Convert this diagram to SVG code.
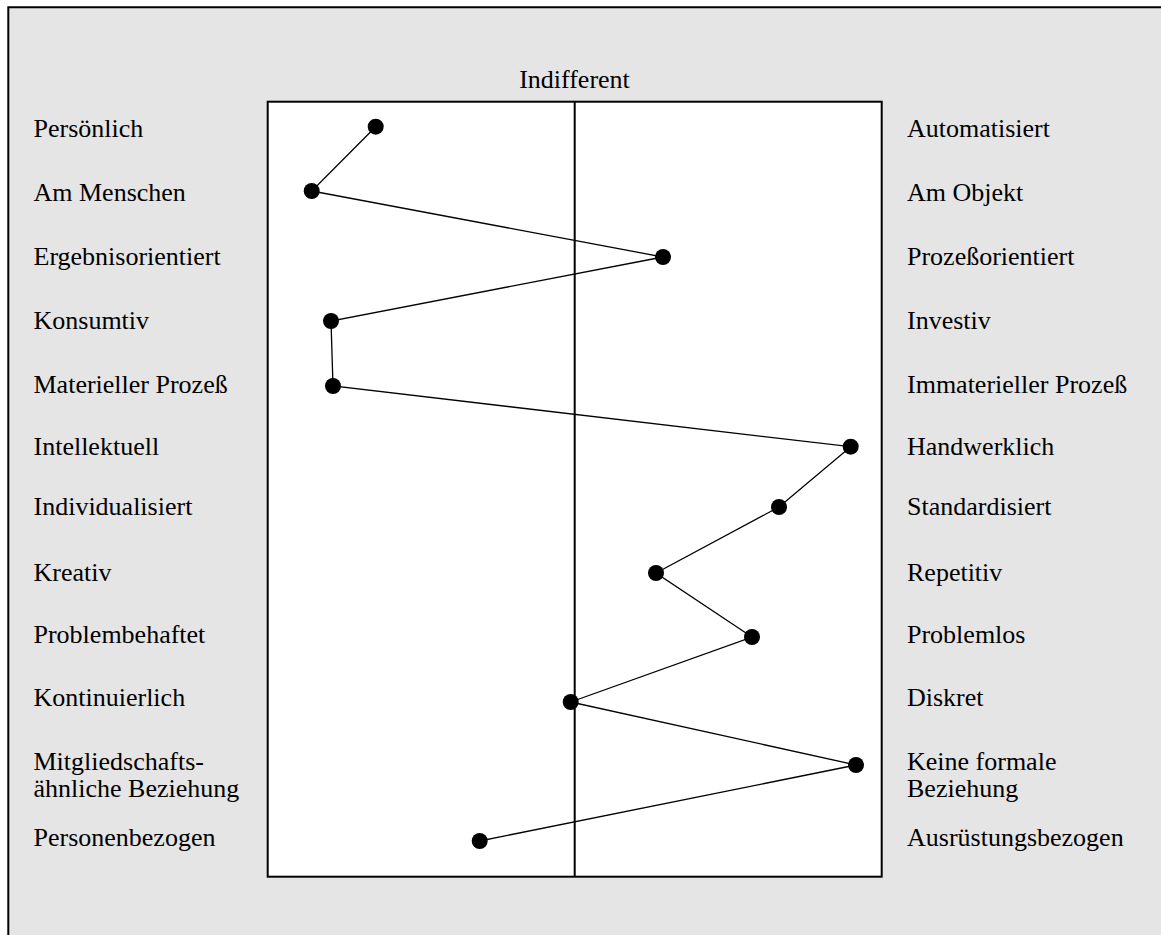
<svg xmlns="http://www.w3.org/2000/svg" width="1161" height="935" viewBox="0 0 1161 935">
<style>
text{font-family:"Liberation Serif","Times New Roman",serif;font-size:26px;fill:#000}
.l{text-anchor:start}
.dot{fill:#000}
.frame{fill:#fff;stroke:#000;stroke-width:2}
.conn{fill:none;stroke:#000;stroke-width:1.3}
</style>
<rect x="0" y="0" width="1161" height="935" fill="#fff"/>
<rect x="8" y="8" width="1153" height="927" fill="#e5e5e5"/>
<path d="M8.3 935 V7.3 H1161" fill="none" stroke="#000" stroke-width="2"/>
<g id="chart">
<rect class="frame" x="267.7" y="101.7" width="614" height="775"/>
<line x1="574.7" y1="101.7" x2="574.7" y2="876.7" stroke="#000" stroke-width="2"/>
<text x="574.5" y="88.3" text-anchor="middle">Indifferent</text>
</g>
<g id="connectors">
<polyline class="conn" points="375.7,126.7 311.7,191 663,257 331,321 333,386 850.7,446.7 779,507 656,573 752,637 570.7,702 856,765 479.7,841"/>
</g>
<g id="row1"><text x="33.5" y="137">Persönlich</text><text x="907" y="137">Automatisiert</text><circle class="dot" cx="375.7" cy="126.7" r="8"/></g>
<g id="row2"><text x="33.5" y="201">Am Menschen</text><text x="907" y="201">Am Objekt</text><circle class="dot" cx="311.7" cy="191" r="8"/></g>
<g id="row3"><text x="33.5" y="265">Ergebnisorientiert</text><text x="907" y="265">Prozeßorientiert</text><circle class="dot" cx="663" cy="257" r="8"/></g>
<g id="row4"><text x="33.5" y="329">Konsumtiv</text><text x="907" y="329">Investiv</text><circle class="dot" cx="331" cy="321" r="8"/></g>
<g id="row5"><text x="33.5" y="393">Materieller Prozeß</text><text x="907" y="393">Immaterieller Prozeß</text><circle class="dot" cx="333" cy="386" r="8"/></g>
<g id="row6"><text x="33.5" y="455">Intellektuell</text><text x="907" y="455">Handwerklich</text><circle class="dot" cx="850.7" cy="446.7" r="8"/></g>
<g id="row7"><text x="33.5" y="515">Individualisiert</text><text x="907" y="515">Standardisiert</text><circle class="dot" cx="779" cy="507" r="8"/></g>
<g id="row8"><text x="33.5" y="581">Kreativ</text><text x="907" y="581">Repetitiv</text><circle class="dot" cx="656" cy="573" r="8"/></g>
<g id="row9"><text x="33.5" y="643">Problembehaftet</text><text x="907" y="643">Problemlos</text><circle class="dot" cx="752" cy="637" r="8"/></g>
<g id="row10"><text x="33.5" y="706">Kontinuierlich</text><text x="907" y="706">Diskret</text><circle class="dot" cx="570.7" cy="702" r="8"/></g>
<g id="row11"><text x="33.5" y="770">Mitgliedschafts-</text><text x="33.5" y="797">ähnliche Beziehung</text><text x="907" y="770">Keine formale</text><text x="907" y="797">Beziehung</text><circle class="dot" cx="856" cy="765" r="8"/></g>
<g id="row12"><text x="33.5" y="846">Personenbezogen</text><text x="907" y="846">Ausrüstungsbezogen</text><circle class="dot" cx="479.7" cy="841" r="8"/></g>
</svg>
